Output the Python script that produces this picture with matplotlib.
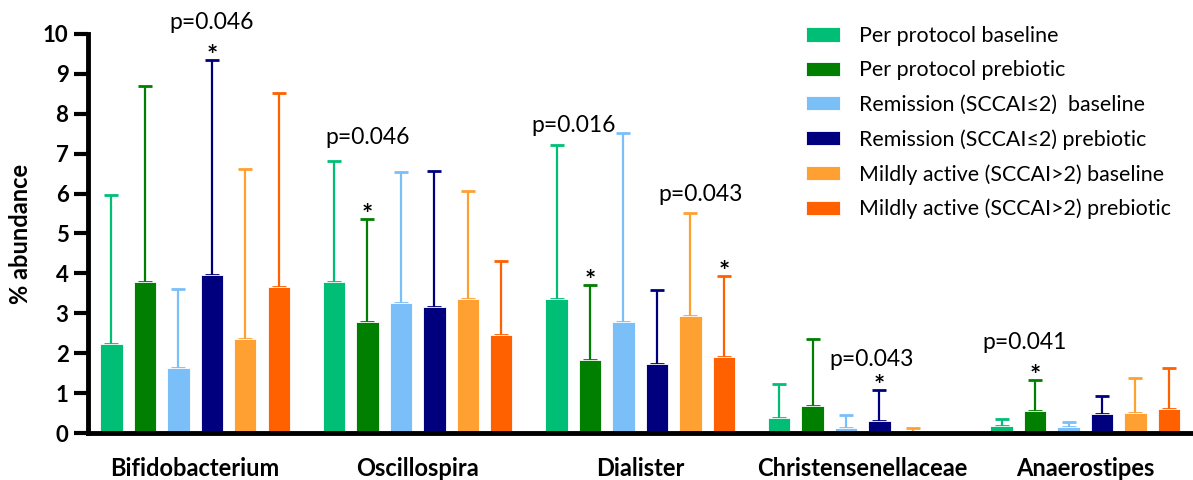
import numpy as np
import matplotlib
matplotlib.use('Agg')
import matplotlib.pyplot as plt

plt.rcParams['font.family'] = ['Lato', 'DejaVu Sans']

# --- Data ---
taxa = ['Bifidobacterium', 'Oscillospira', 'Dialister', 'Christensenellaceae', 'Anaerostipes']
series = ['Per protocol baseline', 'Per protocol prebiotic',
          'Remission (SCCAI\u22642)  baseline', 'Remission (SCCAI\u22642) prebiotic',
          'Mildly active (SCCAI>2) baseline', 'Mildly active (SCCAI>2) prebiotic']
colors = ['#00BE76', '#007F00', '#7BBFF9', '#00007F', '#FFA033', '#FF6000']

# mean % abundance, one list per series (order of taxa)
pp_base = [2.22, 3.79, 3.37, 0.37, 0.17]
pp_pre = [3.79, 2.79, 1.82, 0.67, 0.55]
rem_base = [1.64, 3.27, 2.77, 0.12, 0.14]
rem_pre = [3.97, 3.17, 1.72, 0.30, 0.48]
mild_base = [2.36, 3.35, 2.92, 0.02, 0.50]
mild_pre = [3.65, 2.46, 1.90, np.nan, 0.60]
# upper error (SD)
pp_base_sd = [3.75, 3.03, 3.85, 0.87, 0.17]
pp_pre_sd = [4.91, 2.58, 1.89, 1.69, 0.79]
rem_base_sd = [1.97, 3.27, 4.76, 0.34, 0.14]
rem_pre_sd = [5.39, 3.40, 1.87, 0.78, 0.45]
mild_base_sd = [4.26, 2.72, 2.59, 0.10, 0.87]
mild_pre_sd = [4.87, 1.86, 2.03, np.nan, 1.04]

means = [pp_base, pp_pre, rem_base, rem_pre, mild_base, mild_pre]
sds = [pp_base_sd, pp_pre_sd, rem_base_sd, rem_pre_sd, mild_base_sd, mild_pre_sd]

# significance annotations: (taxon index, series index, p text, p height, p x offset)
sig = [(0, 3, 'p=0.046', 10.28, 0.0),
       (1, 1, 'p=0.046', 7.41, 0.0),
       (2, 1, 'p=0.016', 7.71, -0.5),
       (2, 5, 'p=0.043', 5.98, -0.7),
       (3, 3, 'p=0.043', 1.83, -0.25),
       (4, 1, 'p=0.041', 2.28, -0.3)]

# --- Layout ---
group_step = 6.65
bar_w = 0.67
group_x = np.arange(len(taxa)) * group_step

fig = plt.figure(figsize=(11.93, 4.8), dpi=100)
ax = fig.add_axes([88 / 1193, 47 / 480, 1 - 88 / 1193, 399 / 480])

for i in range(len(series)):
    x = group_x + i
    ax.bar(x, means[i], width=bar_w, color=colors[i], edgecolor='white',
           linewidth=0.6, label=series[i], zorder=2)
    ax.errorbar(x, means[i], yerr=[np.zeros(len(taxa)), sds[i]], fmt='none',
                ecolor=colors[i], elinewidth=1.6, capsize=5, capthick=2, zorder=1)

for t, s, ptxt, ph, dx in sig:
    xb = group_x[t] + s
    top = means[s][t] + sds[s][t]
    ax.text(xb, top - 0.2, '*', ha='center', va='bottom', fontsize=19,
            fontweight='bold', color='black')
    ax.text(xb + dx, ph, ptxt, ha='center', va='center', fontsize=16.5, clip_on=False)

ax.set_xlim(group_x[0] - 0.7, group_x[-1] + 5 + 0.72)
ax.set_ylim(0, 10)
ax.set_yticks(range(0, 11))
ax.set_xticks(group_x + 2.5)
ax.set_xticklabels(taxa, fontsize=17, fontweight='bold')
ax.tick_params(axis='x', length=0, pad=17)
ax.tick_params(axis='y', length=10, width=3, labelsize=16, pad=4)
for lab in ax.get_yticklabels():
    lab.set_fontweight('bold')
ax.set_ylabel('% abundance', fontsize=17, fontweight='bold', labelpad=8)

for side in ['top', 'right']:
    ax.spines[side].set_visible(False)
ax.spines['left'].set_linewidth(3.5)
ax.spines['bottom'].set_linewidth(3.5)

ax.legend(loc='upper left', bbox_to_anchor=(806 / 1193, 1 - 26 / 480),
          bbox_transform=fig.transFigure, frameon=False, fontsize=15.4,
          handlelength=1.6, handleheight=0.65, handletextpad=0.9,
          labelspacing=0.67, borderpad=0, borderaxespad=0)

fig.savefig('out.png', dpi=100)
